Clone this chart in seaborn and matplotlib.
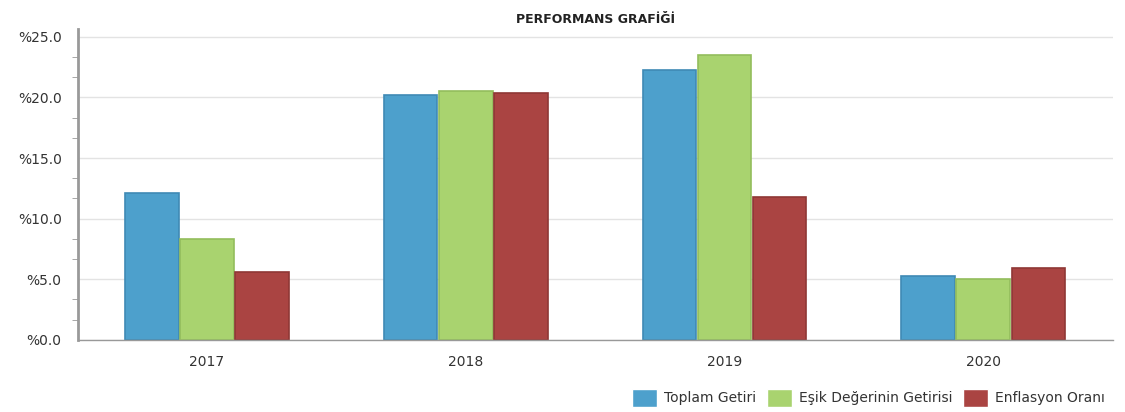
import pandas as pd
import numpy as np
import matplotlib.pyplot as plt
import seaborn as sns
from matplotlib.ticker import FuncFormatter, MultipleLocator

years = ["2017", "2018", "2019", "2020"]
toplam = [12.1, 20.2, 22.3, 5.3]
esik = [8.3, 20.5, 23.5, 5.0]
enflasyon = [5.6, 20.4, 11.8, 5.9]
series = ["Toplam Getiri", "Eşik Değerinin Getirisi", "Enflasyon Oranı"]
colors = ["#4da0cc", "#a9d36f", "#aa4442"]
edges = ["#3f8ab5", "#93bd5c", "#8f3735"]

df = pd.DataFrame({
    "Yıl": years * 3,
    "Değer": toplam + esik + enflasyon,
    "Seri": [series[0]] * 4 + [series[1]] * 4 + [series[2]] * 4,
})

sns.set_style("white")
plt.rcParams["font.family"] = ["DejaVu Sans"]

fig = plt.figure(figsize=(11.25, 4.12), dpi=100)
ax = fig.add_axes([0.069, 0.175, 0.92, 0.755])

sns.barplot(data=df, x="Yıl", y="Değer", hue="Seri", palette=colors,
            saturation=1, width=0.64, gap=0.03, ax=ax, legend=True)

for i, cont in enumerate(ax.containers):
    for bar in cont:
        bar.set_edgecolor(edges[i])
        bar.set_linewidth(1.2)

ax.set_xlim(-0.5, 3.5)
ax.set_ylim(0, 25.66)
ax.yaxis.set_major_locator(MultipleLocator(5))
ax.yaxis.set_minor_locator(MultipleLocator(5 / 3))
ax.yaxis.set_major_formatter(FuncFormatter(lambda v, p: "%%%.1f" % v))
ax.grid(axis="y", color="#e3e3e3", linewidth=1)
ax.set_axisbelow(True)
ax.set_xlabel("")
ax.set_ylabel("")

for s in ["top", "right"]:
    ax.spines[s].set_visible(False)
ax.spines["left"].set_color("#999999")
ax.spines["left"].set_linewidth(2)
ax.spines["bottom"].set_color("#999999")
ax.spines["bottom"].set_linewidth(1)

ax.tick_params(axis="y", which="major", length=8, color="#999999", labelsize=10, labelcolor="#333333", direction="out")
ax.tick_params(axis="y", which="minor", length=4, color="#999999", direction="out", left=True)
ax.tick_params(axis="x", length=5, color="#999999", labelsize=10, labelcolor="#333333", pad=6)

ax.set_title("PERFORMANS GRAFİĞİ", fontsize=9, fontweight="bold", color="#222222", pad=4)

ax.legend(loc="lower right", bbox_to_anchor=(1.005, -0.255), ncol=3, frameon=False,
          fontsize=10, handlelength=1.8, handleheight=1.6, handletextpad=0.5,
          columnspacing=0.8, labelcolor="#333333")

fig.savefig("out.png", dpi=100)
